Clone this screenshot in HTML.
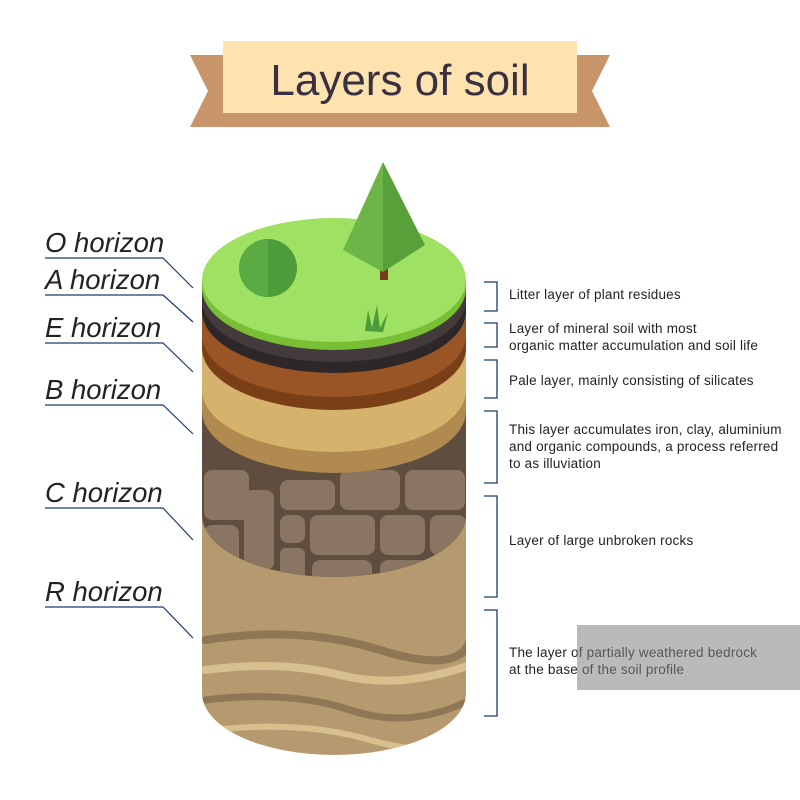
<!DOCTYPE html>
<html><head><meta charset="utf-8"><style>
body{margin:0;background:#fff;width:800px;height:800px;overflow:hidden}
svg{display:block}
</style></head><body>
<svg width="800" height="800" viewBox="0 0 800 800" xmlns="http://www.w3.org/2000/svg">
<defs>
<clipPath id="rk"><path d="M202,280 L202,515 A132,62 0 0 0 466,515 L466,280 Z"/></clipPath>
<clipPath id="rr"><path d="M202,280 L202,693 A132,62 0 0 0 466,693 L466,280 Z"/></clipPath>
</defs>
<!-- banner -->
<polygon points="190,55 223,55 223,127 190,127 208,91" fill="#c8956a"/>
<polygon points="610,55 577,55 577,127 610,127 592,91" fill="#c8956a"/>
<rect x="205" y="100" width="390" height="27" fill="#c8956a"/>
<rect x="223" y="41" width="354" height="72" fill="#fde3b0"/>
<text x="400" y="95" text-anchor="middle" font-family="Liberation Sans, sans-serif" font-size="44" fill="#3a3040">Layers of soil</text>

<g>
<path d="M202,280 L202,693 A132,62 0 0 0 466,693 L466,280 Z" fill="#b59a70"/>
<g clip-path="url(#rr)" fill="none" stroke-linecap="round">
<path d="M205,640 Q300,625 380,650 T470,640" stroke="#8f7654" stroke-width="8"/>
<path d="M205,670 Q280,660 340,675 T470,665" stroke="#d8c08e" stroke-width="8"/>
<path d="M205,700 Q290,690 350,710 T470,700" stroke="#8f7654" stroke-width="7"/>
<path d="M215,730 Q300,720 370,740 T460,730" stroke="#d8c08e" stroke-width="6"/>
</g>
<path d="M202,280 L202,515 A132,62 0 0 0 466,515 L466,280 Z" fill="#5f4d3f"/>
<g clip-path="url(#rk)" fill="#8a7462">
<rect x="204" y="470" width="45" height="50" rx="8"/>
<rect x="204" y="525" width="35" height="50" rx="8"/>
<rect x="244" y="490" width="30" height="80" rx="8"/>
<rect x="280" y="480" width="55" height="30" rx="8"/>
<rect x="280" y="515" width="25" height="28" rx="8"/>
<rect x="310" y="515" width="65" height="40" rx="8"/>
<rect x="280" y="548" width="25" height="40" rx="6"/>
<rect x="312" y="560" width="60" height="35" rx="8"/>
<rect x="340" y="470" width="60" height="40" rx="8"/>
<rect x="380" y="515" width="45" height="40" rx="8"/>
<rect x="380" y="560" width="60" height="40" rx="8"/>
<rect x="405" y="470" width="60" height="40" rx="8"/>
<rect x="430" y="515" width="36" height="40" rx="8"/>
<rect x="445" y="560" width="25" height="40" rx="8"/>
</g>
<path d="M202,280 L202,411 A132,62 0 0 0 466,411 L466,280 Z" fill="#b08a4e"/>
<path d="M202,280 L202,390 A132,62 0 0 0 466,390 L466,280 Z" fill="#d6b36d"/>
<path d="M202,280 L202,348 A132,62 0 0 0 466,348 L466,280 Z" fill="#7b3f18"/>
<path d="M202,280 L202,335 A132,62 0 0 0 466,335 L466,280 Z" fill="#9a5526"/>
<path d="M202,280 L202,311 A132,62 0 0 0 466,311 L466,280 Z" fill="#2e2729"/>
<path d="M202,280 L202,300 A132,62 0 0 0 466,300 L466,280 Z" fill="#433a3c"/>
<ellipse cx="334" cy="288" rx="132" ry="62" fill="#78bf35"/>
<ellipse cx="334" cy="280" rx="132" ry="62" fill="#9fe162"/>
</g>
<circle cx="268" cy="268" r="29" fill="#4d9c3a"/>
<path d="M268,239 A29,29 0 0 0 268,297 Z" fill="#5aab43"/>
<path d="M365,331 L368,310 L372,328 L377,305 L380,328 L388,312 L383,332 Z" fill="#4d9c3a"/>
<rect x="380" y="266" width="8" height="14" fill="#7a3a22"/>
<polygon points="383,162 343,250 383,272" fill="#6cb546"/>
<polygon points="383,162 425,245 383,272" fill="#58a13a"/>

<g font-family="Liberation Sans, sans-serif" font-style="italic" font-size="27.5" fill="#222">
<text x="45" y="252">O horizon</text>
<text x="45" y="289">A horizon</text>
<text x="45" y="337">E horizon</text>
<text x="45" y="399">B horizon</text>
<text x="45" y="502">C horizon</text>
<text x="45" y="601">R horizon</text>
</g>
<g stroke="#1e3a6e" stroke-width="1.2" fill="none">
<polyline points="45,258 163,258 193,288"/>
<polyline points="45,295 163,295 193,322"/>
<polyline points="45,343 163,343 193,372"/>
<polyline points="45,405 163,405 193,434"/>
<polyline points="45,508 163,508 193,540"/>
<polyline points="45,607 163,607 193,638"/>
</g>
<g stroke="#1e3a6e" stroke-width="1.3" fill="none">
<polyline points="484,282 497,282 497,311 484,311"/>
<polyline points="484,323 497,323 497,347 484,347"/>
<polyline points="484,360 497,360 497,398 484,398"/>
<polyline points="484,411 497,411 497,483 484,483"/>
<polyline points="484,496 497,496 497,597 484,597"/>
<polyline points="484,610 497,610 497,716 484,716"/>
</g>
<g font-family="Liberation Sans, sans-serif" font-size="13.5" fill="#222" letter-spacing="0.2">
<text x="509" y="299">Litter layer of plant residues</text>
<text x="509" y="333">Layer of mineral soil with most</text>
<text x="509" y="350">organic matter accumulation and soil life</text>
<text x="509" y="385">Pale layer, mainly consisting of silicates</text>
<text x="509" y="434">This layer accumulates iron, clay, aluminium</text>
<text x="509" y="451">and organic compounds, a process referred</text>
<text x="509" y="468">to as illuviation</text>
<text x="509" y="545">Layer of large unbroken rocks</text>
<text x="509" y="657">The layer of partially weathered bedrock</text>
<text x="509" y="674">at the base of the soil profile</text>
</g>
<rect x="577" y="625" width="223" height="65" fill="rgba(130,130,130,0.55)"/>
</svg>
</body></html>
